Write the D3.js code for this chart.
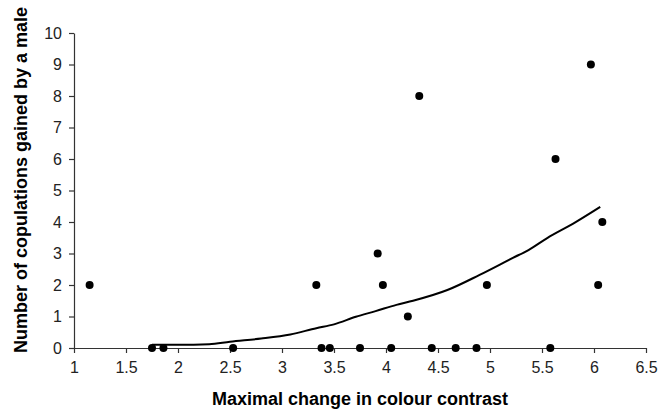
<!DOCTYPE html>
<html>
<head>
<meta charset="utf-8">
<script src="https://cdn.jsdelivr.net/npm/d3@7"></script>
<style>
  body { margin: 0; background: #fff; }
  svg { display: block; font-family: "Liberation Sans", Arial, sans-serif; }
</style>
</head>
<body>
<svg id="chart" width="671" height="409"></svg>
<script>
// observed males: colour contrast change vs copulations gained
let contrast = [1.15, 1.75, 1.86, 2.53, 3.33, 3.38, 3.46, 3.75, 3.92, 3.97, 4.05, 4.21, 4.32, 4.44, 4.67, 4.87, 4.97, 5.58, 5.63, 5.97, 6.04, 6.08]
let copulations = [2, 0, 0, 0, 2, 0, 0, 0, 3, 2, 0, 1, 8, 0, 0, 0, 2, 0, 6, 9, 2, 4]

// trend line
let trendX = [1.75, 2.0, 2.3, 2.5, 2.8, 3.08, 3.33, 3.5, 3.71, 3.9, 4.1, 4.26, 4.59, 4.9, 5.22, 5.37, 5.55, 5.8, 6.06]
let trendY = [0.1, 0.1, 0.12, 0.2, 0.3, 0.43, 0.63, 0.75, 0.99, 1.17, 1.37, 1.5, 1.84, 2.32, 2.86, 3.11, 3.49, 3.95, 4.48]

let xTicks = [1, 1.5, 2, 2.5, 3, 3.5, 4, 4.5, 5, 5.5, 6, 6.5]
let yTicks = [0, 1, 2, 3, 4, 5, 6, 7, 8, 9, 10]

let svg = d3.select("#chart")

let x = d3.scaleLinear().domain([1, 6.5]).range([74, 646])
let y = d3.scaleLinear().domain([0, 10]).range([348, 33])

svg.append("g")
  .attr("transform", `translate(0,${y(0)})`)
  .call(d3.axisBottom(x).tickValues(xTicks).tickFormat(d3.format("")).tickSize(5).tickSizeOuter(0).tickPadding(9))

svg.append("g")
  .attr("transform", `translate(${x(1)},0)`)
  .call(d3.axisLeft(y).tickValues(yTicks).tickSize(5).tickSizeOuter(0).tickPadding(7))

svg.selectAll(".domain, .tick line").attr("stroke", "#333").attr("stroke-width", 1.2)
svg.selectAll(".tick text").attr("font-size", 16).attr("fill", "#222")
  .attr("font-family", "'Liberation Sans', Arial, sans-serif")

let line = d3.line().x(d => x(d[0])).y(d => y(d[1])).curve(d3.curveMonotoneX)

svg.append("path")
  .datum(trendX.map((v, i) => [v, trendY[i]]))
  .attr("d", line)
  .attr("fill", "none")
  .attr("stroke", "#000")
  .attr("stroke-width", 2)

svg.selectAll("circle.pt")
  .data(contrast.map((v, i) => [v, copulations[i]]))
  .enter().append("circle").classed("pt", true)
  .attr("cx", d => x(d[0]))
  .attr("cy", d => y(d[1]))
  .attr("r", 4)
  .attr("fill", "#000")

svg.append("text")
  .attr("x", 360).attr("y", 405)
  .attr("text-anchor", "middle")
  .attr("font-size", 18).attr("font-weight", "bold")
  .text("Maximal change in colour contrast")

svg.append("text")
  .attr("transform", "translate(27,180) rotate(-90)")
  .attr("text-anchor", "middle")
  .attr("font-size", 18).attr("font-weight", "bold")
  .text("Number of copulations gained by a male")
</script>
</body>
</html>
